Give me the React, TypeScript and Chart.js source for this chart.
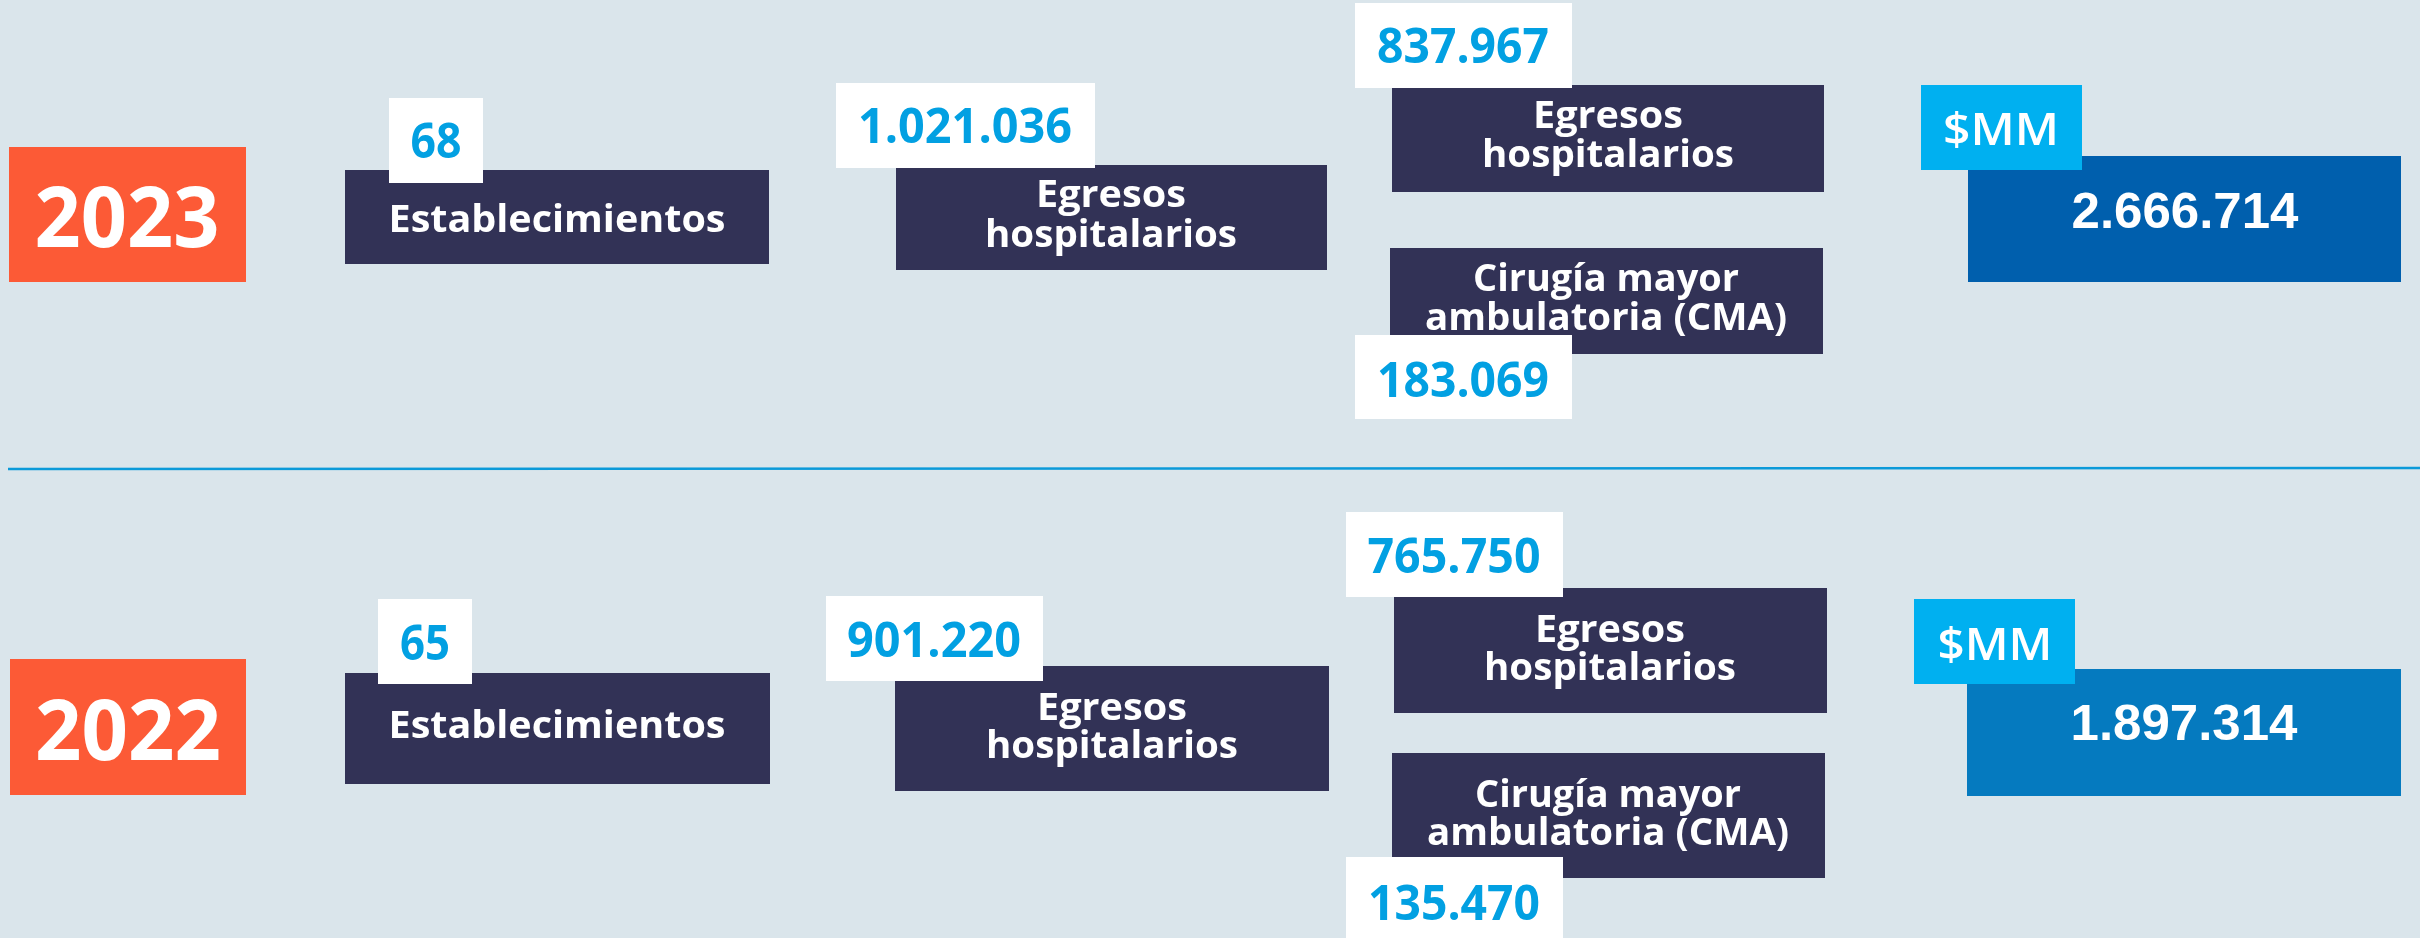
import React, { useEffect, useRef } from 'react';
import { Chart, registerables } from 'chart.js';

Chart.register(...registerables);

// ---------- data ----------
const years = ['2023', '2022'];
const establecimientos = [68, 65];
const egresosTotales = [1021036, 901220];
const egresosHospitalarios = [837967, 765750];
const cirugiaMayorAmbulatoria = [183069, 135470];
const gastoMM = [2666714, 1897314];
const labelEstablecimientos = ['Establecimientos'];
const labelEgresos = ['Egresos', 'hospitalarios'];
const labelCMA = ['Cirugía mayor', 'ambulatoria (CMA)'];
const labelMoneda = '$MM';

// ---------- styles ----------
const BG = '#dae5eb';
const ORANGE = '#fc5a36';
const NAVY = '#323256';
const BLUE = ['#005fad', '#057abf'];
const CYAN = '#00b0f0';
const NUM = '#02a0e2';
const WHITE = '#ffffff';
const LINE = '#0b9ad9';

const F_YEAR = '700 85px "Open Sans"';
const F_NUM = '700 48px "Open Sans"';
const F_LABEL = '700 37px "Open Sans"';
const F_MM = '600 46px "Open Sans"';
const F_GASTO = 'bold 50px "Liberation Sans", Arial';

const fmt = (n: number) => String(n).replace(/\B(?=(\d{3})+(?!\d))/g, '.');

// ---------- layout (pixel space of the hidden linear scales) ----------
type Box = { x0: number; y0: number; x1: number; y1: number; color: string };
type Txt = { text: string; cx: number; base: number; font: string; color: string; w: number };

const layouts = [
  {
    year: [9, 147, 246, 282, 127, 247, 185],
    estBox: [345, 170, 769, 264], estLbl: [557, 232],
    estNum: [389, 98, 483, 183, 436, 158, 51],
    egrBox: [896, 165, 1327, 270], egrLbl: [1111, 207, 247],
    egrNum: [836, 83, 1095, 168, 965, 143, 214],
    hospBox: [1392, 85, 1824, 192], hospLbl: [1608, 128, 167],
    hospNum: [1355, 3, 1572, 88, 1463, 63, 172],
    cmaBox: [1390, 248, 1823, 354], cmaLbl: [1606, 291, 330],
    cmaNum: [1355, 335, 1572, 419, 1463, 397, 172],
    gasBox: [1968, 156, 2401, 282, 2185, 228, 227],
    mmBox: [1921, 85, 2082, 170, 2001, 145, 116],
  },
  {
    year: [10, 659, 246, 795, 128, 760, 186],
    estBox: [345, 673, 770, 784], estLbl: [557, 738],
    estNum: [378, 599, 472, 684, 425, 660, 50],
    egrBox: [895, 666, 1329, 791], egrLbl: [1112, 720, 758],
    egrNum: [826, 596, 1043, 681, 934, 657, 174],
    hospBox: [1394, 588, 1827, 713], hospLbl: [1610, 642, 680],
    hospNum: [1346, 512, 1563, 597, 1454, 573, 173],
    cmaBox: [1392, 753, 1825, 878], cmaLbl: [1608, 807, 845],
    cmaNum: [1346, 857, 1563, 940, 1454, 920, 172],
    gasBox: [1967, 669, 2401, 796, 2184, 740, 227],
    mmBox: [1914, 599, 2075, 684, 1995, 660, 115],
  },
];
const separator = [8, 469, 2420, 468];
const egrW = [150, 252];
const cmaW = [266, 362];
const estW = [337];

function buildScene() {
  const boxes: Box[] = [];
  const texts: Txt[] = [];
  const bx = (a: number[], color: string) => boxes.push({ x0: a[0], y0: a[1], x1: a[2], y1: a[3], color });
  const tx = (text: string, cx: number, base: number, font: string, color: string, w: number) =>
    texts.push({ text, cx, base, font, color, w });

  layouts.forEach((L, i) => {
    bx(L.year, ORANGE);
    tx(years[i], L.year[4], L.year[5], F_YEAR, WHITE, L.year[6]);

    bx(L.estBox, NAVY);
    labelEstablecimientos.forEach((t, k) => tx(t, L.estLbl[0], L.estLbl[1 + k], F_LABEL, WHITE, estW[k]));
    bx(L.estNum, WHITE);
    tx(fmt(establecimientos[i]), L.estNum[4], L.estNum[5], F_NUM, NUM, L.estNum[6]);

    bx(L.egrBox, NAVY);
    labelEgresos.forEach((t, k) => tx(t, L.egrLbl[0], L.egrLbl[1 + k], F_LABEL, WHITE, egrW[k]));
    bx(L.egrNum, WHITE);
    tx(fmt(egresosTotales[i]), L.egrNum[4], L.egrNum[5], F_NUM, NUM, L.egrNum[6]);

    bx(L.hospBox, NAVY);
    labelEgresos.forEach((t, k) => tx(t, L.hospLbl[0], L.hospLbl[1 + k], F_LABEL, WHITE, egrW[k]));
    bx(L.hospNum, WHITE);
    tx(fmt(egresosHospitalarios[i]), L.hospNum[4], L.hospNum[5], F_NUM, NUM, L.hospNum[6]);

    bx(L.cmaBox, NAVY);
    labelCMA.forEach((t, k) => tx(t, L.cmaLbl[0], L.cmaLbl[1 + k], F_LABEL, WHITE, cmaW[k]));
    bx(L.cmaNum, WHITE);
    tx(fmt(cirugiaMayorAmbulatoria[i]), L.cmaNum[4], L.cmaNum[5], F_NUM, NUM, L.cmaNum[6]);

    bx(L.gasBox, BLUE[i]);
    tx(fmt(gastoMM[i]), L.gasBox[4], L.gasBox[5], F_GASTO, WHITE, L.gasBox[6]);
    bx(L.mmBox, CYAN);
    tx(labelMoneda, L.mmBox[4], L.mmBox[5], F_MM, WHITE, L.mmBox[6]);
  });
  return { boxes, texts };
}

const infographicPlugin = {
  id: 'infographic',
  beforeDraw(chart: any) {
    const { ctx, width, height } = chart;
    ctx.save();
    ctx.fillStyle = BG;
    ctx.fillRect(0, 0, width, height);
    ctx.restore();
  },
  afterDraw(chart: any) {
    const { ctx } = chart;
    const xs = chart.scales.x;
    const ys = chart.scales.y;
    const X = (v: number) => xs.getPixelForValue(v);
    const Y = (v: number) => ys.getPixelForValue(v);
    const { boxes, texts } = buildScene();

    ctx.save();
    ctx.strokeStyle = LINE;
    ctx.lineWidth = 2.5;
    ctx.beginPath();
    ctx.moveTo(X(separator[0]), Y(separator[1]));
    ctx.lineTo(X(separator[2]), Y(separator[3]));
    ctx.stroke();

    // draw boxes and texts in order so that later boxes overlap earlier ones
    let ti = 0;
    const drawText = (t: Txt) => {
      ctx.font = t.font;
      ctx.fillStyle = t.color;
      ctx.textAlign = 'center';
      ctx.textBaseline = 'alphabetic';
      const m = ctx.measureText(t.text).width;
      const targetW = Math.abs(X(t.cx + t.w / 2) - X(t.cx - t.w / 2));
      ctx.save();
      ctx.translate(X(t.cx), Y(t.base));
      ctx.scale(targetW / m, 1);
      ctx.fillText(t.text, 0, 0);
      ctx.restore();
    };
    boxes.forEach((b) => {
      ctx.fillStyle = b.color;
      const x0 = X(b.x0), x1 = X(b.x1), y0 = Y(b.y0), y1 = Y(b.y1);
      ctx.fillRect(Math.min(x0, x1), Math.min(y0, y1), Math.abs(x1 - x0), Math.abs(y1 - y0));
    });
    // texts after all boxes (texts never sit under a later box)
    for (; ti < texts.length; ti++) drawText(texts[ti]);
    ctx.restore();
  },
};

export default function App() {
  const ref = useRef<HTMLCanvasElement | null>(null);
  useEffect(() => {
    document.body.style.margin = '0';
    let chart: Chart | null = null;
    let cancelled = false;
    const fontsReady = Promise.all([
      document.fonts.load(F_YEAR),
      document.fonts.load(F_NUM),
      document.fonts.load(F_MM),
      document.fonts.load(F_GASTO),
    ]).catch(() => null);
    fontsReady.then(() => {
      if (cancelled || !ref.current) return;
      chart = new Chart(ref.current, {
        type: 'scatter',
        data: { datasets: [] },
        options: {
          animation: false,
          responsive: false,
          maintainAspectRatio: false,
          devicePixelRatio: 1,
          layout: { padding: 0 },
          events: [],
          plugins: { legend: { display: false }, tooltip: { enabled: false } },
          scales: {
            x: { type: 'linear', min: 0, max: 2420, display: false },
            y: { type: 'linear', min: 0, max: 938, reverse: true, display: false },
          },
        },
        plugins: [infographicPlugin],
      });
    });
    return () => {
      cancelled = true;
      if (chart) chart.destroy();
    };
  }, []);
  return (
    <div style={{ position: 'fixed', left: 0, top: 0, width: 2420, height: 938 }}>
      <canvas ref={ref} width={2420} height={938} style={{ width: 2420, height: 938, display: 'block' }} />
    </div>
  );
}
